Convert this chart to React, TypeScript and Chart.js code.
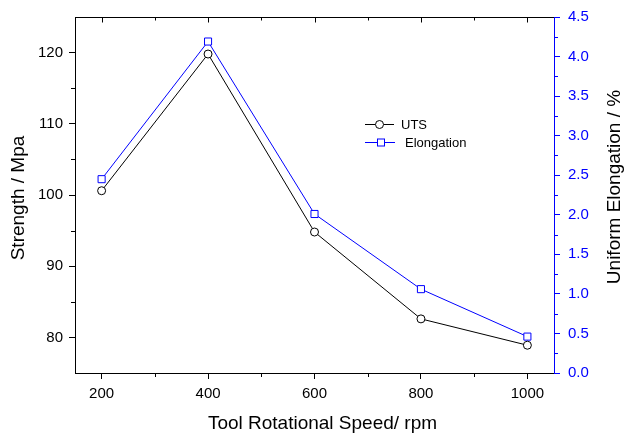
import React, { useEffect, useRef } from "react";
import { Chart, registerables } from "chart.js";

Chart.register(...registerables);

const speeds = [200, 400, 600, 800, 1000];
const utsValues = [100.6, 119.8, 94.8, 82.6, 78.9];
const elongationValues = [2.45, 4.19, 2.01, 1.06, 0.46];
const xTicks = [200, 400, 600, 800, 1000];
const xMinorTicks = [300, 500, 700, 900];
const yTicks = [80, 90, 100, 110, 120];
const yMinorTicks = [85, 95, 105, 115];
const y1MinorTicks = [0.25, 0.75, 1.25, 1.75, 2.25, 2.75, 3.25, 3.75, 4.25];

const BLUE = "#0000ff";
const FONT = "Arial, 'Liberation Sans', sans-serif";

const decorPlugin = {
  id: "decor",
  afterDraw(chart: any) {
    const ctx = chart.ctx;
    const { left, right, top, bottom } = chart.chartArea;
    const xs = chart.scales.x;
    const ys = chart.scales.y;
    const y1 = chart.scales.y1;
    ctx.save();
    ctx.lineWidth = 1;
    // top border
    ctx.strokeStyle = "#000";
    const ty = Math.round(top) + 0.5;
    ctx.beginPath();
    ctx.moveTo(left, ty);
    ctx.lineTo(right, ty);
    ctx.stroke();
    // top ticks (inward)
    xTicks.forEach((v) => {
      const px = Math.round(xs.getPixelForValue(v)) + 0.5;
      ctx.beginPath();
      ctx.moveTo(px, ty);
      ctx.lineTo(px, ty + 5);
      ctx.stroke();
    });
    xMinorTicks.forEach((v) => {
      const px = Math.round(xs.getPixelForValue(v)) + 0.5;
      ctx.beginPath();
      ctx.moveTo(px, ty);
      ctx.lineTo(px, ty + 3);
      ctx.stroke();
      // bottom minor (outward)
      ctx.beginPath();
      ctx.moveTo(px, bottom);
      ctx.lineTo(px, bottom + 4);
      ctx.stroke();
    });
    // left minor
    yMinorTicks.forEach((v) => {
      const py = Math.round(ys.getPixelForValue(v)) + 0.5;
      ctx.beginPath();
      ctx.moveTo(left, py);
      ctx.lineTo(left - 4, py);
      ctx.stroke();
    });
    // right minor
    ctx.strokeStyle = BLUE;
    y1MinorTicks.forEach((v) => {
      const py = Math.round(y1.getPixelForValue(v)) + 0.5;
      ctx.beginPath();
      ctx.moveTo(right, py);
      ctx.lineTo(right + 4, py);
      ctx.stroke();
    });

    // axis titles
    ctx.fillStyle = "#000";
    ctx.font = `19px ${FONT}`;
    ctx.textAlign = "center";
    ctx.textBaseline = "alphabetic";
    ctx.fillText("Tool Rotational Speed/ rpm", (left + right) / 2 + 8, 429);
    ctx.save();
    ctx.translate(24, 198);
    ctx.rotate(-Math.PI / 2);
    ctx.fillText("Strength / Mpa", 0, 0);
    ctx.restore();
    ctx.save();
    ctx.translate(620, 187);
    ctx.rotate(-Math.PI / 2);
    ctx.fillText("Uniform Elongation / %", 0, 0);
    ctx.restore();

    // legend
    const ds = chart.data.datasets;
    ctx.font = `13px ${FONT}`;
    ctx.textAlign = "left";
    ctx.textBaseline = "middle";
    // UTS row
    let ly = 124.5;
    ctx.strokeStyle = "#000";
    ctx.beginPath();
    ctx.moveTo(365, ly);
    ctx.lineTo(375.5, ly);
    ctx.moveTo(383.5, ly);
    ctx.lineTo(394, ly);
    ctx.stroke();
    ctx.beginPath();
    ctx.arc(379.5, ly, 4, 0, Math.PI * 2);
    ctx.fillStyle = "#fff";
    ctx.fill();
    ctx.stroke();
    ctx.fillStyle = "#000";
    ctx.fillText(ds[0].label, 401, ly + 0.5);
    // Elongation row
    ly = 142.5;
    ctx.strokeStyle = BLUE;
    ctx.beginPath();
    ctx.moveTo(365, ly);
    ctx.lineTo(377, ly);
    ctx.moveTo(384.5, ly);
    ctx.lineTo(395, ly);
    ctx.stroke();
    ctx.fillStyle = "#fff";
    ctx.fillRect(377, ly - 4, 7, 7);
    ctx.strokeRect(377.5, ly - 3.5, 7, 7);
    ctx.fillStyle = "#000";
    ctx.fillText(ds[1].label, 405, ly + 0.5);
    ctx.restore();
  },
};

export default function App() {
  const canvasRef = useRef<HTMLCanvasElement>(null);

  useEffect(() => {
    const canvas = canvasRef.current;
    if (!canvas) return;
    const chart = new Chart(canvas, {
      type: "line",
      data: {
        datasets: [
          {
            label: "UTS",
            data: speeds.map((s, i) => ({ x: s, y: utsValues[i] })),
            yAxisID: "y",
            borderColor: "#000",
            borderWidth: 1,
            pointStyle: "circle",
            pointRadius: 4,
            pointBackgroundColor: "#fff",
            pointBorderColor: "#000",
            pointBorderWidth: 1,
            tension: 0,
          },
          {
            label: "Elongation",
            data: speeds.map((s, i) => ({ x: s, y: elongationValues[i] })),
            yAxisID: "y1",
            borderColor: BLUE,
            borderWidth: 1,
            pointStyle: "rect",
            pointRadius: 5,
            pointBackgroundColor: "#fff",
            pointBorderColor: BLUE,
            pointBorderWidth: 1,
            tension: 0,
          },
        ],
      },
      options: {
        responsive: false,
        animation: false,
        devicePixelRatio: 1,
        layout: { padding: { top: 16, left: 0, right: 0, bottom: 0 } },
        plugins: {
          legend: { display: false },
          tooltip: { enabled: false },
        },
        scales: {
          x: {
            type: "linear",
            min: 150,
            max: 1050,
            afterBuildTicks: (s: any) => {
              s.ticks = xTicks.map((v) => ({ value: v }));
            },
            afterFit: (s: any) => {
              s.height = 62;
            },
            grid: {
              display: true,
              drawOnChartArea: false,
              drawTicks: true,
              tickLength: 6,
              color: "#000",
            },
            border: { display: true, color: "#000", width: 1 },
            ticks: {
              color: "#000",
              font: { family: FONT, size: 15 },
              padding: 6,
              maxRotation: 0,
              callback: (v: any) => String(v),
            },
          },
          y: {
            type: "linear",
            position: "left",
            min: 75,
            max: 125,
            afterBuildTicks: (s: any) => {
              s.ticks = yTicks.map((v) => ({ value: v }));
            },
            afterFit: (s: any) => {
              s.width = 75;
            },
            grid: {
              display: true,
              drawOnChartArea: false,
              drawTicks: true,
              tickLength: 6,
              color: "#000",
            },
            border: { display: true, color: "#000", width: 1 },
            ticks: {
              color: "#000",
              font: { family: FONT, size: 15 },
              padding: 6,
              callback: (v: any) => String(v),
            },
          },
          y1: {
            type: "linear",
            position: "right",
            min: 0,
            max: 4.5,
            ticks: {
              stepSize: 0.5,
              color: BLUE,
              font: { family: FONT, size: 15 },
              padding: 8,
              callback: (v: any) => Number(v).toFixed(1),
            },
            afterFit: (s: any) => {
              s.width = 70;
            },
            grid: {
              display: true,
              drawOnChartArea: false,
              drawTicks: true,
              tickLength: 6,
              color: BLUE,
            },
            border: { display: true, color: BLUE, width: 1 },
          },
        },
      },
      plugins: [decorPlugin],
    } as any);
    return () => chart.destroy();
  }, []);

  return (
    <div style={{ position: "absolute", left: 0, top: 0, width: 624, height: 435, background: "#fff" }}>
      <canvas ref={canvasRef} width={624} height={435} style={{ display: "block" }} />
    </div>
  );
}
